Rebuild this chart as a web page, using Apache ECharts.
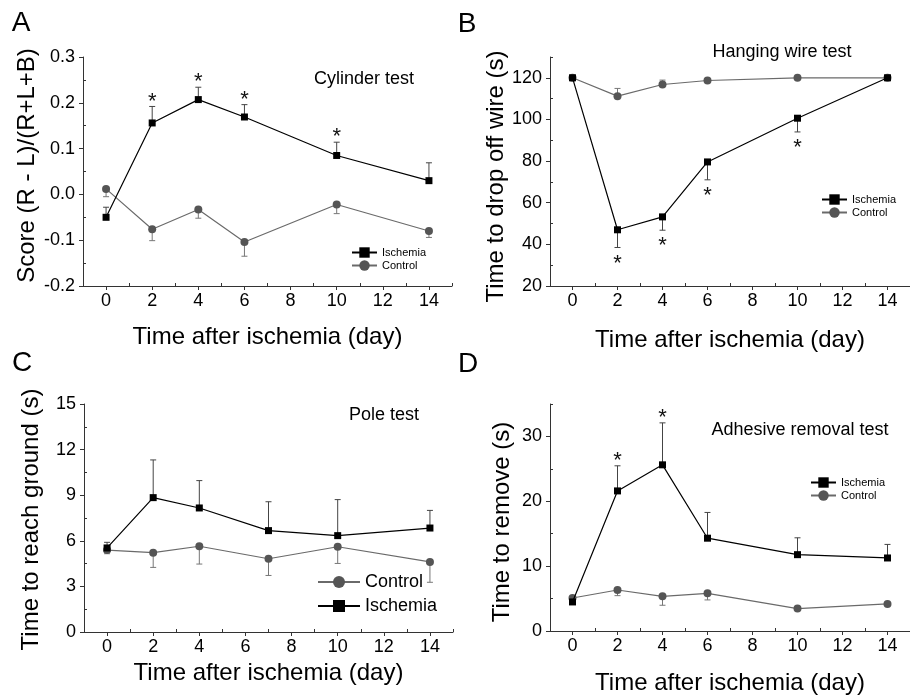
<!DOCTYPE html>
<html>
<head>
<meta charset="utf-8">
<script src="https://cdn.jsdelivr.net/npm/echarts@6/dist/echarts.min.js"></script>
<style>
  html, body { margin: 0; padding: 0; background: #fff; }
  #chart { width: 910px; height: 696px; }
</style>
</head>
<body>
<div id="chart"></div>
<script>
// days of testing
const days = [0, 2, 4, 6, 10, 14]
const daysPole = [0, 2, 4, 7, 10, 14]

// A - cylinder test
const cylIsch = [-0.050, 0.156, 0.207, 0.169, 0.085, 0.030]
const cylIschErr = [0.022, 0.036, 0.027, 0.027, 0.029, 0.039]
const cylCtrl = [0.012, -0.076, -0.033, -0.104, -0.022, -0.080]
const cylCtrlErr = [0.017, 0.025, 0.019, 0.031, 0.020, 0.014]
const cylSig = [0, 1, 1, 1, 1, 0]

// B - hanging wire test
const wireIsch = [120, 47.0, 53.2, 79.6, 100.6, 120]
const wireIschErr = [0, 8.5, 6.4, 8.6, 6.6, 0]
const wireCtrl = [120, 111.2, 116.8, 118.7, 120, 120]
const wireCtrlErr = [0, 3.7, 2.1, 0.5, 0, 0]
const wireSig = [0, 1, 1, 1, 1, 0]

// C - pole test
const poleIsch = [5.53, 8.84, 8.16, 6.67, 6.34, 6.84]
const poleIschErr = [0.37, 2.48, 1.8, 1.9, 2.37, 1.16]
const poleCtrl = [5.39, 5.22, 5.64, 4.82, 5.61, 4.61]
const poleCtrlErr = [0.24, 0.97, 1.17, 1.1, 1.1, 1.34]

// D - adhesive removal test
const adhIsch = [4.48, 21.6, 25.62, 14.31, 11.77, 11.26]
const adhIschErr = [0, 3.87, 6.47, 3.97, 2.6, 2.09]
const adhCtrl = [5.09, 6.32, 5.35, 5.81, 3.46, 4.18]
const adhCtrlErr = [0, 0.87, 1.38, 1.02, 0, 0]
const adhSig = [0, 1, 1, 0, 0, 0]

// tick values
const xMajor = [0, 2, 4, 6, 8, 10, 12, 14]
const xMinor = [1, 3, 5, 7, 9, 11, 13, 15]
const yMajorA = [-0.2, -0.1, 0, 0.1, 0.2, 0.3]
const yMinorA = [-0.15, -0.05, 0.05, 0.15, 0.25]
const yMajorB = [20, 40, 60, 80, 100, 120]
const yMinorB = [30, 50, 70, 90, 110, 130]
const yMajorC = [0, 3, 6, 9, 12, 15]
const yMinorC = [1.5, 4.5, 7.5, 10.5, 13.5]
const yMajorD = [0, 10, 20, 30]
const yMinorD = [5, 15, 25, 35]

const FONT = 'Liberation Sans, Arial, sans-serif'
const ISCH = '#000'
const CTRL = '#555'
const CTRL_LINE = '#6a6a6a'

// yPad shifts the rotated y title along the axis (left pad = up, right pad = down)
const panels = [
  { grid: { left: 83, top: 57, width: 369, height: 229 }, ymin: -0.2, ymax: 0.3,
    yMajor: yMajorA, yMinor: yMinorA, dec: 1, yName: 'Score (R - L)/(R+L+B)', yGap: 44, xGap: 39,
    yPad: [0, 0, 0, 12] },
  { grid: { left: 550, top: 57, width: 369, height: 229 }, ymin: 20, ymax: 130,
    yMajor: yMajorB, yMinor: yMinorB, dec: 0, yName: 'Time to drop off wire (s)', yGap: 42, xGap: 42,
    yPad: [0, 10, 0, 0] },
  { grid: { left: 84, top: 404, width: 369, height: 228 }, ymin: 0, ymax: 15,
    yMajor: yMajorC, yMinor: yMinorC, dec: 0, yName: 'Time to reach ground (s)', yGap: 41, xGap: 29,
    yPad: [0, 3, 0, 0] },
  { grid: { left: 550, top: 404, width: 369, height: 229 }, ymin: 0, ymax: 35,
    yMajor: yMajorD, yMinor: yMinorD, dec: 0, yName: 'Time to remove (s)', yGap: 36, xGap: 40,
    yPad: [0, 9, 0, 0] }
]

const xAxes = []
const yAxes = []
panels.forEach((p, gi) => {
  xAxes.push({
    type: 'value', gridIndex: gi, min: -1, max: 15, position: 'bottom',
    name: 'Time after ischemia (day)', nameLocation: 'middle', nameGap: p.xGap,
    nameTextStyle: { fontFamily: FONT, fontSize: 24, color: '#000' },
    axisLine: { onZero: false, lineStyle: { color: '#333', width: 1 } },
    axisTick: { customValues: xMajor, length: 4, lineStyle: { color: '#333' } },
    axisLabel: { customValues: xMajor, fontFamily: FONT, fontSize: 18, color: '#000', margin: 6 },
    splitLine: { show: false }
  })
  xAxes.push({
    type: 'value', gridIndex: gi, min: -1, max: 15, position: 'bottom',
    axisLine: { show: false, onZero: false },
    axisTick: { customValues: xMinor, inside: true, length: 3, lineStyle: { color: '#333' } },
    axisLabel: { show: false },
    splitLine: { show: false }
  })
  yAxes.push({
    type: 'value', gridIndex: gi, min: p.ymin, max: p.ymax, position: 'left',
    name: p.yName, nameLocation: 'middle', nameGap: p.yGap,
    nameTextStyle: { fontFamily: FONT, fontSize: 24, color: '#000', padding: p.yPad },
    axisLine: { show: true, onZero: false, lineStyle: { color: '#333', width: 1 } },
    axisTick: { show: true, customValues: p.yMajor, length: 4, lineStyle: { color: '#333' } },
    axisLabel: { customValues: p.yMajor, fontFamily: FONT, fontSize: 18, color: '#000', margin: 8,
      formatter: v => Number(v).toFixed(p.dec) },
    splitLine: { show: false }
  })
  yAxes.push({
    type: 'value', gridIndex: gi, min: p.ymin, max: p.ymax, position: 'left',
    axisLine: { show: false, onZero: false },
    axisTick: { show: true, customValues: p.yMinor, inside: true, length: 3, lineStyle: { color: '#333' } },
    axisLabel: { show: false },
    splitLine: { show: false }
  })
})

const lineSeries = (name, xs, ys, gi, isIsch) => ({
  name, type: 'line', xAxisIndex: gi * 2, yAxisIndex: gi * 2,
  data: xs.map((x, i) => [x, ys[i]]),
  symbol: isIsch ? 'rect' : 'circle',
  symbolSize: isIsch ? 7 : 8,
  itemStyle: { color: isIsch ? ISCH : CTRL },
  lineStyle: { color: isIsch ? ISCH : CTRL_LINE, width: 1.2 },
  z: isIsch ? 4 : 3,
  animation: false
})

// error bars (one-sided) and significance stars
const errSeries = (xs, ys, errs, dir, color, gi, sig) => ({
  type: 'custom', xAxisIndex: gi * 2, yAxisIndex: gi * 2, silent: true, z: 2,
  data: xs.map((x, i) => [x, ys[i], errs[i], sig ? sig[i] : 0]),
  encode: { x: 0, y: 1 },
  renderItem: (params, api) => {
    const x = api.value(0), y = api.value(1), e = api.value(2)
    const p0 = api.coord([x, y])
    const p1 = api.coord([x, y + dir * e])
    const children = []
    if (e > 0) {
      children.push({ type: 'line', shape: { x1: p0[0], y1: p0[1], x2: p1[0], y2: p1[1] },
        style: { stroke: color, lineWidth: 1 } })
      children.push({ type: 'line', shape: { x1: p1[0] - 3, y1: p1[1], x2: p1[0] + 3, y2: p1[1] },
        style: { stroke: color, lineWidth: 1 } })
    }
    if (api.value(3)) {
      children.push({ type: 'text', x: p1[0], y: dir > 0 ? p1[1] - 5 : p1[1] + 16,
        style: { text: '*', fontFamily: FONT, fontSize: 22, fill: '#111', align: 'center', verticalAlign: 'middle' } })
    }
    return { type: 'group', children }
  },
  animation: false
})

const series = [
  lineSeries('Control', days, cylCtrl, 0, false),
  lineSeries('Ischemia', days, cylIsch, 0, true),
  errSeries(days, cylCtrl, cylCtrlErr, -1, '#777', 0),
  errSeries(days, cylIsch, cylIschErr, 1, '#444', 0, cylSig),

  lineSeries('Control', days, wireCtrl, 1, false),
  lineSeries('Ischemia', days, wireIsch, 1, true),
  errSeries(days, wireCtrl, wireCtrlErr, 1, '#777', 1),
  errSeries(days, wireIsch, wireIschErr, -1, '#444', 1, wireSig),

  lineSeries('Control', daysPole, poleCtrl, 2, false),
  lineSeries('Ischemia', daysPole, poleIsch, 2, true),
  errSeries(daysPole, poleCtrl, poleCtrlErr, -1, '#777', 2),
  errSeries(daysPole, poleIsch, poleIschErr, 1, '#444', 2),

  lineSeries('Control', days, adhCtrl, 3, false),
  lineSeries('Ischemia', days, adhIsch, 3, true),
  errSeries(days, adhCtrl, adhCtrlErr, -1, '#777', 3),
  errSeries(days, adhIsch, adhIschErr, 1, '#444', 3, adhSig)
]

const smallLegend = (left, top) => ({
  data: ['Ischemia', 'Control'], orient: 'vertical', left, top,
  itemWidth: 25, itemHeight: 13, itemGap: 2, selectedMode: false,
  textStyle: { fontFamily: FONT, fontSize: 11, color: '#000' }
})

const label = (text, x, y, size) => ({
  type: 'text', x, y, silent: true,
  style: { text, fontFamily: FONT, fontSize: size, fill: '#000', align: 'center', verticalAlign: 'middle' }
})

const option = {
  animation: false,
  grid: panels.map(p => p.grid),
  xAxis: xAxes,
  yAxis: yAxes,
  legend: [
    smallLegend(346, 242),
    smallLegend(816, 189),
    { data: ['Control', 'Ischemia'], orient: 'vertical', left: 312, top: 568,
      itemWidth: 42, itemHeight: 15, itemGap: 6, selectedMode: false,
      textStyle: { fontFamily: FONT, fontSize: 18, color: '#000' } },
    smallLegend(805, 472)
  ],
  graphic: [
    label('A', 21, 23, 28),
    label('B', 467, 24, 28),
    label('C', 22, 363, 28),
    label('D', 468, 364, 28),
    label('Cylinder test', 364, 79, 18),
    label('Hanging wire test', 782, 52, 18),
    label('Pole test', 384, 415, 18),
    label('Adhesive removal test', 800, 430, 18)
  ],
  series
}

const chart = echarts.init(document.getElementById('chart'))
chart.setOption(option)
</script>
</body>
</html>
